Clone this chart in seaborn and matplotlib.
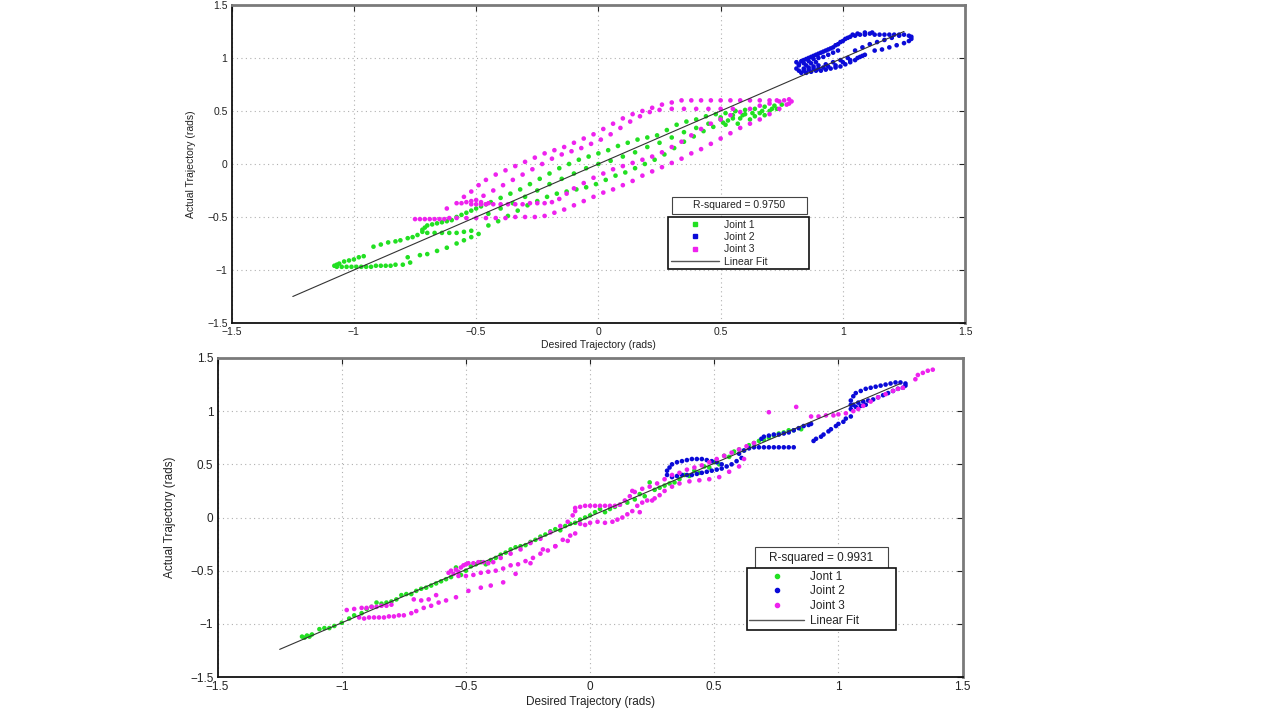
import numpy as np
import pandas as pd
import matplotlib
matplotlib.use("Agg")
import matplotlib.pyplot as plt
import seaborn as sns
from matplotlib.lines import Line2D
from matplotlib.patches import Rectangle

# ---------------- data ----------------
joint_names_top = ["Joint 1", "Joint 2", "Joint 3"]
joint_names_bottom = ["Jont 1", "Joint 2", "Joint 3"]
fit_label = "Linear Fit"
r2_top = "R-squared = 0.9750"
r2_bottom = "R-squared = 0.9931"

tick_values = [-1.5, -1, -0.5, 0, 0.5, 1, 1.5]
tick_labels = ["\u22121.5", "\u22121", "\u22120.5", "0", "0.5", "1", "1.5"]
x_label = "Desired Trajectory (rads)"
y_label = "Actual Trajectory (rads)"

fit_x = [-1.25, 1.25]
fit_y_top = [-1.25, 1.25]
fit_y_bottom = [-1.24, 1.26]

top_joint1 = [
    (-1.08, -0.96), (-1.07, -0.97), (-1.05, -0.97), (-1.03, -0.97), (-1.01, -0.97), (-0.99, -0.97),
    (-0.97, -0.97), (-0.95, -0.97), (-0.93, -0.97), (-0.91, -0.96), (-0.89, -0.96), (-0.87, -0.96),
    (-0.85, -0.96), (-0.83, -0.95), (-0.80, -0.95), (-0.77, -0.93),
    (-1.07, -0.95), (-1.06, -0.94), (-1.04, -0.92), (-1.02, -0.91), (-1.00, -0.90), (-0.98, -0.88),
    (-0.96, -0.87),
    (-0.92, -0.78), (-0.89, -0.76), (-0.86, -0.74), (-0.83, -0.73), (-0.81, -0.72), (-0.78, -0.70),
    (-0.76, -0.69), (-0.74, -0.67),
    (-0.72, -0.62), (-0.71, -0.60), (-0.70, -0.58), (-0.68, -0.57), (-0.66, -0.56), (-0.64, -0.55),
    (-0.62, -0.54), (-0.60, -0.53), (-0.72, -0.64), (-0.70, -0.65), (-0.67, -0.65), (-0.64, -0.65),
    (-0.61, -0.65), (-0.58, -0.65), (-0.55, -0.64), (-0.52, -0.63),
    (-0.58, -0.50), (-0.56, -0.48), (-0.54, -0.46), (-0.52, -0.44), (-0.50, -0.42), (-0.48, -0.40),
    (-0.46, -0.38), (-0.44, -0.36),
    (-0.40, -0.32), (-0.36, -0.28), (-0.32, -0.24), (-0.28, -0.19), (-0.24, -0.14), (-0.20, -0.09),
    (-0.16, -0.04), (-0.12, 0.00), (-0.08, 0.04), (-0.04, 0.07), (0.00, 0.10), (0.04, 0.13),
    (0.08, 0.17), (0.12, 0.20), (0.16, 0.23), (0.20, 0.25), (0.24, 0.27), (0.28, 0.32),
    (0.32, 0.37), (0.36, 0.40), (0.40, 0.42), (0.44, 0.45), (0.48, 0.47), (0.52, 0.48),
    (0.56, 0.50), (0.60, 0.51), (0.64, 0.52), (0.68, 0.54), (0.72, 0.55), (0.75, 0.56),
    (-0.78, -0.88), (-0.73, -0.86), (-0.70, -0.85), (-0.66, -0.82), (-0.62, -0.79), (-0.58, -0.75),
    (-0.55, -0.72), (-0.52, -0.69), (-0.49, -0.66),
    (-0.45, -0.58), (-0.41, -0.54), (-0.37, -0.49), (-0.33, -0.44), (-0.29, -0.39), (-0.25, -0.35),
    (-0.21, -0.31), (-0.17, -0.28), (-0.13, -0.26), (-0.09, -0.24), (-0.05, -0.22), (-0.01, -0.19),
    (0.03, -0.15), (0.07, -0.11), (0.11, -0.08), (0.15, -0.04), (0.19, 0.00), (0.23, 0.04),
    (0.27, 0.09), (0.31, 0.15), (0.35, 0.21), (0.39, 0.26), (0.43, 0.31), (0.47, 0.35),
    (0.51, 0.39), (0.55, 0.43), (0.59, 0.46), (0.63, 0.48), (0.67, 0.50), (0.71, 0.52),
    (-0.45, -0.47), (-0.40, -0.42), (-0.35, -0.37), (-0.30, -0.31), (-0.25, -0.25), (-0.20, -0.19),
    (-0.15, -0.14), (-0.10, -0.09), (-0.05, -0.04), (0.00, 0.00), (0.05, 0.03), (0.10, 0.07),
    (0.15, 0.11), (0.20, 0.16), (0.25, 0.20), (0.30, 0.25), (0.35, 0.30), (0.40, 0.34),
    (0.45, 0.38), (0.50, 0.42),
    (0.50, 0.44), (0.53, 0.41), (0.55, 0.46), (0.57, 0.38), (0.58, 0.43), (0.60, 0.47),
    (0.62, 0.42), (0.64, 0.45), (0.66, 0.48), (0.68, 0.46), (0.70, 0.50), (0.73, 0.52),
    (0.56, 0.50), (0.52, 0.37),
]

top_joint2 = [
    (0.82, 0.94), (0.83, 0.97), (0.85, 0.99), (0.87, 1.01), (0.89, 1.03), (0.91, 1.05), (0.93, 1.07),
    (0.95, 1.09), (0.97, 1.12), (0.99, 1.15), (1.01, 1.18), (1.03, 1.20), (1.05, 1.21), (1.07, 1.22),
    (1.09, 1.22), (1.11, 1.23), (1.13, 1.22), (1.15, 1.22), (1.17, 1.22), (1.19, 1.22), (1.21, 1.22),
    (1.23, 1.22), (1.25, 1.22), (1.27, 1.21), (1.28, 1.20), (1.28, 1.18),
    (1.27, 1.16), (1.25, 1.14), (1.22, 1.12), (1.19, 1.10), (1.16, 1.08), (1.13, 1.07),
    (1.09, 1.03), (1.07, 1.01), (1.05, 0.98), (1.03, 0.96), (1.01, 0.94), (0.99, 0.92), (0.97, 0.91),
    (0.95, 0.90), (0.93, 0.89), (0.91, 0.88), (0.89, 0.88), (0.87, 0.87), (0.85, 0.86), (0.83, 0.86),
    (0.82, 0.88), (0.84, 0.90), (0.86, 0.91), (0.88, 0.92), (0.90, 0.93), (0.93, 0.94), (0.96, 0.96),
    (0.99, 0.98), (1.02, 1.00),
    (0.84, 0.95), (0.86, 0.97), (0.88, 0.99), (0.90, 1.00), (0.92, 1.01), (0.94, 1.03), (0.96, 1.05),
    (0.98, 1.07), (0.82, 0.93), (0.85, 0.93), (0.87, 0.95), (0.89, 0.96),
    (1.05, 1.07), (1.08, 1.10), (1.11, 1.13), (1.14, 1.15), (1.17, 1.17), (1.20, 1.19), (1.23, 1.21),
    (0.84, 0.98), (0.86, 1.00), (0.88, 1.02), (0.90, 1.04), (0.92, 1.06), (0.94, 1.08), (0.96, 1.10),
    (0.98, 1.13), (1.00, 1.16), (1.02, 1.19), (1.04, 1.22), (1.06, 1.23), (1.09, 1.24), (1.12, 1.24),
    (0.84, 0.88), (0.86, 0.89), (0.88, 0.90), (0.90, 0.90), (0.92, 0.91), (0.94, 0.92), (0.97, 0.93),
    (1.00, 0.96), (1.03, 0.98), (1.06, 1.00), (1.08, 1.02), (0.81, 0.90), (0.81, 0.96),
]

top_joint3 = [
    (-0.75, -0.52), (-0.73, -0.52), (-0.71, -0.52), (-0.69, -0.52), (-0.67, -0.52), (-0.65, -0.52),
    (-0.63, -0.52), (-0.61, -0.51), (-0.58, -0.51), (-0.54, -0.51), (-0.50, -0.51), (-0.46, -0.51),
    (-0.42, -0.51), (-0.38, -0.51), (-0.34, -0.50), (-0.30, -0.50), (-0.26, -0.50), (-0.22, -0.49),
    (-0.18, -0.46), (-0.14, -0.43), (-0.10, -0.39), (-0.06, -0.35), (-0.02, -0.31), (0.02, -0.27),
    (0.06, -0.24), (0.10, -0.20), (0.14, -0.16), (0.18, -0.11), (0.22, -0.07), (0.26, -0.03),
    (0.30, 0.01), (0.34, 0.05), (0.38, 0.10), (0.42, 0.14), (0.46, 0.19), (0.50, 0.24),
    (0.54, 0.29), (0.58, 0.34), (0.62, 0.38), (0.66, 0.42), (0.70, 0.47), (0.74, 0.52), (0.77, 0.56),
    (-0.56, -0.37), (-0.54, -0.36), (-0.52, -0.35), (-0.50, -0.34), (-0.52, -0.38), (-0.50, -0.38),
    (-0.48, -0.38), (-0.46, -0.38), (-0.48, -0.36), (-0.45, -0.37), (-0.43, -0.38), (-0.40, -0.38),
    (-0.37, -0.38), (-0.34, -0.38), (-0.31, -0.38), (-0.28, -0.37), (-0.25, -0.37), (-0.22, -0.37),
    (-0.19, -0.36),
    (-0.62, -0.42), (-0.58, -0.37), (-0.55, -0.31), (-0.52, -0.26), (-0.49, -0.20), (-0.46, -0.15),
    (-0.42, -0.10), (-0.38, -0.06), (-0.34, -0.02), (-0.30, 0.02), (-0.26, 0.06), (-0.22, 0.10),
    (-0.18, 0.13), (-0.14, 0.16), (-0.10, 0.20), (-0.06, 0.24), (-0.02, 0.28), (0.02, 0.33),
    (0.06, 0.38), (0.10, 0.43), (0.14, 0.47), (0.18, 0.50), (0.22, 0.53), (0.26, 0.56),
    (0.30, 0.58), (0.34, 0.60), (0.38, 0.60), (0.42, 0.60), (0.46, 0.60), (0.50, 0.60),
    (0.54, 0.60), (0.58, 0.60), (0.62, 0.60), (0.66, 0.60), (0.70, 0.60), (0.73, 0.60),
    (0.76, 0.60), (0.78, 0.61), (0.79, 0.59), (0.78, 0.57),
    (-0.47, -0.30), (-0.43, -0.25), (-0.39, -0.20), (-0.35, -0.15), (-0.31, -0.10), (-0.27, -0.05),
    (-0.23, 0.00), (-0.19, 0.05), (-0.15, 0.09), (-0.11, 0.12), (-0.07, 0.15), (-0.03, 0.19),
    (0.01, 0.23), (0.05, 0.28), (0.09, 0.34), (0.13, 0.40), (0.17, 0.45), (0.21, 0.49),
    (0.25, 0.51), (0.30, 0.52), (0.35, 0.52), (0.40, 0.52), (0.45, 0.52), (0.50, 0.52), (0.55, 0.52),
    (-0.16, -0.33), (-0.13, -0.28), (-0.10, -0.23), (-0.06, -0.18), (-0.02, -0.13), (0.02, -0.09),
    (0.06, -0.05), (0.10, -0.02), (0.14, 0.01), (0.18, 0.04), (0.22, 0.07), (0.26, 0.11),
    (0.30, 0.16), (0.34, 0.21), (0.38, 0.27), (0.42, 0.33), (0.46, 0.38), (0.50, 0.42),
    (0.54, 0.46), (0.58, 0.49), (0.62, 0.52), (0.66, 0.55), (0.70, 0.57), (0.74, 0.59),
]

bottom_joint1 = [
    (-1.16, -1.12), (-1.15, -1.13), (-1.14, -1.11), (-1.13, -1.12), (-1.12, -1.10), (-1.09, -1.05),
    (-1.07, -1.04), (-1.05, -1.04), (-1.03, -1.02), (-1.00, -0.99), (-0.97, -0.95), (-0.95, -0.92),
    (-0.92, -0.90), (-0.90, -0.86), (-0.88, -0.84), (-0.86, -0.80), (-0.84, -0.81), (-0.82, -0.80),
    (-0.80, -0.79), (-0.78, -0.77), (-0.76, -0.73), (-0.74, -0.72), (-0.72, -0.72), (-0.70, -0.69),
    (-0.68, -0.67), (-0.66, -0.66), (-0.64, -0.64), (-0.62, -0.62), (-0.60, -0.60), (-0.58, -0.58),
    (-0.56, -0.56), (-0.54, -0.47), (-0.52, -0.54), (-0.50, -0.50), (-0.48, -0.46), (-0.46, -0.44),
    (-0.44, -0.42), (-0.42, -0.44), (-0.40, -0.40), (-0.38, -0.38), (-0.36, -0.35), (-0.34, -0.33),
    (-0.32, -0.30), (-0.30, -0.28), (-0.28, -0.27), (-0.26, -0.26), (-0.24, -0.23), (-0.22, -0.21),
    (-0.20, -0.18), (-0.18, -0.16), (-0.16, -0.13), (-0.14, -0.11), (-0.12, -0.12), (-0.10, -0.08),
    (-0.08, -0.06), (-0.06, -0.05), (-0.04, -0.02), (-0.02, 0.00), (0.00, 0.02), (0.02, 0.05),
    (0.04, 0.08), (0.06, 0.05), (0.08, 0.08), (0.10, 0.10), (0.12, 0.12), (0.15, 0.14),
    (0.18, 0.17), (0.20, 0.22), (0.22, 0.20), (0.24, 0.33), (0.26, 0.26), (0.28, 0.28),
    (0.30, 0.30), (0.32, 0.32), (0.34, 0.33), (0.36, 0.36), (0.38, 0.40), (0.40, 0.39),
    (0.42, 0.44), (0.44, 0.42), (0.46, 0.48), (0.48, 0.47), (0.50, 0.52), (0.52, 0.50),
    (0.54, 0.58), (0.56, 0.57), (0.58, 0.62), (0.60, 0.64), (0.62, 0.63), (0.64, 0.68),
    (0.66, 0.70), (0.68, 0.72), (0.70, 0.73), (0.72, 0.75), (0.74, 0.77), (0.76, 0.79),
    (0.78, 0.80), (0.80, 0.82), (0.82, 0.82), (0.85, 0.83),
]

bottom_joint2 = [
    (0.31, 0.40), (0.31, 0.44), (0.32, 0.47), (0.33, 0.50), (0.35, 0.52), (0.37, 0.53), (0.39, 0.54),
    (0.41, 0.55), (0.43, 0.55), (0.45, 0.55), (0.47, 0.54), (0.49, 0.53), (0.51, 0.52), (0.53, 0.50),
    (0.33, 0.38), (0.35, 0.39), (0.37, 0.40), (0.39, 0.40), (0.41, 0.40), (0.43, 0.41), (0.45, 0.42),
    (0.47, 0.43), (0.49, 0.44), (0.51, 0.45), (0.53, 0.46), (0.55, 0.48), (0.57, 0.50), (0.59, 0.53),
    (0.61, 0.56), (0.60, 0.60), (0.62, 0.63), (0.64, 0.65),
    (0.66, 0.66), (0.68, 0.66), (0.70, 0.66), (0.72, 0.66), (0.74, 0.66), (0.76, 0.66), (0.78, 0.66),
    (0.80, 0.66), (0.82, 0.66),
    (0.69, 0.74), (0.70, 0.76), (0.72, 0.77), (0.74, 0.78), (0.76, 0.78), (0.78, 0.79), (0.80, 0.80),
    (0.82, 0.82), (0.84, 0.84), (0.86, 0.86), (0.88, 0.87), (0.89, 0.88),
    (0.90, 0.72), (0.91, 0.74), (0.93, 0.76), (0.94, 0.78), (0.96, 0.81), (0.97, 0.83), (0.99, 0.86),
    (1.00, 0.88), (1.02, 0.90), (1.03, 0.93), (1.05, 0.95),
    (1.05, 1.02), (1.05, 1.06), (1.05, 1.10), (1.06, 1.14), (1.07, 1.17), (1.09, 1.19), (1.11, 1.21),
    (1.13, 1.22), (1.15, 1.23), (1.17, 1.24), (1.19, 1.25), (1.21, 1.26), (1.23, 1.27), (1.25, 1.27),
    (1.27, 1.26), (1.27, 1.24), (1.26, 1.22), (1.24, 1.21), (1.22, 1.19), (1.20, 1.17), (1.18, 1.15),
    (1.16, 1.13), (1.14, 1.11), (1.12, 1.10), (1.10, 1.09), (1.08, 1.08), (1.06, 1.06), (1.07, 1.04),
    (1.09, 1.05), (1.11, 1.06),
]

bottom_joint3 = [
    (-0.98, -0.87), (-0.95, -0.86), (-0.92, -0.85), (-0.90, -0.85), (-0.88, -0.84), (-0.86, -0.84),
    (-0.84, -0.83), (-0.82, -0.83), (-0.80, -0.82),
    (-0.93, -0.94), (-0.91, -0.95), (-0.89, -0.94), (-0.87, -0.94), (-0.85, -0.94), (-0.83, -0.94),
    (-0.81, -0.93), (-0.79, -0.93), (-0.77, -0.92), (-0.75, -0.92), (-0.72, -0.90),
    (-0.70, -0.88), (-0.67, -0.85), (-0.64, -0.83), (-0.61, -0.80), (-0.58, -0.78), (-0.54, -0.75),
    (-0.49, -0.69), (-0.44, -0.66), (-0.40, -0.64), (-0.35, -0.61), (-0.30, -0.53), (-0.24, -0.43),
    (-0.19, -0.30), (-0.14, -0.27), (-0.09, -0.22), (-0.06, -0.15),
    (-0.71, -0.77), (-0.68, -0.78), (-0.65, -0.77), (-0.62, -0.73),
    (-0.57, -0.52), (-0.56, -0.50), (-0.55, -0.53), (-0.54, -0.49), (-0.53, -0.51), (-0.52, -0.47),
    (-0.51, -0.45), (-0.50, -0.44), (-0.49, -0.43), (-0.47, -0.43), (-0.45, -0.42), (-0.43, -0.42),
    (-0.41, -0.43), (-0.39, -0.42),
    (-0.53, -0.55), (-0.50, -0.55), (-0.47, -0.54), (-0.44, -0.52), (-0.41, -0.51), (-0.38, -0.50),
    (-0.35, -0.48), (-0.32, -0.45), (-0.29, -0.44), (-0.26, -0.41), (-0.23, -0.38), (-0.20, -0.34),
    (-0.17, -0.31), (-0.14, -0.27), (-0.11, -0.21), (-0.08, -0.17),
    (-0.36, -0.38), (-0.32, -0.34), (-0.28, -0.30), (-0.24, -0.24), (-0.20, -0.20), (-0.16, -0.14),
    (-0.12, -0.08), (-0.09, -0.04), (-0.07, 0.02), (-0.06, 0.06),
    (-0.06, 0.09), (-0.04, 0.10), (-0.02, 0.11), (0.00, 0.11), (0.02, 0.11), (0.04, 0.11),
    (0.06, 0.11), (0.08, 0.11), (0.10, 0.11), (0.12, 0.12),
    (-0.04, -0.06), (-0.02, -0.07), (0.00, -0.05), (0.03, -0.04), (0.06, -0.05), (0.09, -0.04),
    (0.11, -0.02), (0.13, 0.00), (0.15, 0.03), (0.17, 0.06), (0.19, 0.11), (0.21, 0.14),
    (0.23, 0.16), (0.26, 0.18), (0.28, 0.21), (0.30, 0.25), (0.33, 0.29), (0.36, 0.32),
    (0.40, 0.34), (0.44, 0.35), (0.48, 0.36), (0.52, 0.38), (0.56, 0.43), (0.60, 0.48), (0.62, 0.55),
    (0.14, 0.16), (0.16, 0.20), (0.18, 0.24), (0.21, 0.27), (0.24, 0.29), (0.27, 0.32),
    (0.30, 0.36), (0.33, 0.40), (0.36, 0.42), (0.39, 0.45), (0.42, 0.47), (0.45, 0.49),
    (0.48, 0.52), (0.51, 0.55), (0.54, 0.58), (0.57, 0.61), (0.60, 0.64), (0.63, 0.67), (0.66, 0.70),
    (0.25, 0.16), (0.20, 0.05), (0.17, 0.25),
    (0.72, 0.99), (0.83, 1.04), (0.89, 0.95), (0.92, 0.95), (0.95, 0.96), (0.98, 0.96),
    (1.00, 0.97), (1.03, 0.98), (1.06, 1.00), (1.08, 1.02), (1.10, 1.05), (1.13, 1.09),
    (1.16, 1.13), (1.19, 1.16), (1.22, 1.19), (1.24, 1.21), (1.26, 1.22),
    (1.31, 1.30), (1.32, 1.34), (1.34, 1.36), (1.36, 1.38), (1.38, 1.39),
]

colors = ["#22e022", "#0a0ad8", "#ee22ee"]

# ---------------- style ----------------
sns.set_theme(style="white")
plt.rcParams['font.family'] = ['Liberation Sans', 'DejaVu Sans']
plt.rcParams['axes.unicode_minus'] = True


def make_df(series, names):
    frames = []
    for pts, name in zip(series, names):
        arr = np.array(pts)
        frames.append(pd.DataFrame({"x": arr[:, 0], "y": arr[:, 1], "joint": name}))
    return pd.concat(frames, ignore_index=True)


def style_axes(ax, fs_tick, fs_label, ylabelpad):
    ax.set_xlim(-1.5, 1.5)
    ax.set_ylim(-1.5, 1.5)
    ax.set_xticks(tick_values)
    ax.set_yticks(tick_values)
    ax.set_xticklabels(tick_labels)
    ax.set_yticklabels(tick_labels)
    ax.grid(True, linestyle=(0, (1, 3)), color="#b0b0b0", linewidth=0.8)
    ax.set_axisbelow(True)
    ax.tick_params(direction="in", length=4, width=0.8, top=True, right=True,
                   labelsize=fs_tick, colors="#222222", pad=3)
    for side in ["left", "bottom"]:
        ax.spines[side].set_color("#111111")
        ax.spines[side].set_linewidth(1.3)
    for side in ["top", "right"]:
        ax.spines[side].set_color("#7a7a7a")
        ax.spines[side].set_linewidth(2.0)
    ax.set_xlabel(x_label, fontsize=fs_label, color="#222222", labelpad=2)
    ax.set_ylabel(y_label, fontsize=fs_label, color="#222222", labelpad=ylabelpad)


fig = plt.figure(figsize=(12.8, 7.2), dpi=100)
fig.patch.set_facecolor("white")

panels = [
    dict(rect=[0.181, 0.5514, 0.573, 0.4417], series=[top_joint1, top_joint2, top_joint3],
         names=joint_names_top, fit_y=fit_y_top, r2=r2_top,
         rbox=(0.600, 0.343, 0.184, 0.0535), leg=(0.595, 0.333, 0.192),
         fs_tick=7.5, fs_label=7.5, marker="s", ms=2.8, ylabelpad=8),
    dict(rect=[0.170, 0.0597, 0.582, 0.4431], series=[bottom_joint1, bottom_joint2, bottom_joint3],
         names=joint_names_bottom, fit_y=fit_y_bottom, r2=r2_bottom,
         rbox=(0.721, 0.3386, 0.1785, 0.069), leg=(0.710, 0.342, 0.201),
         fs_tick=8.5, fs_label=8.5, marker="o", ms=3.0, ylabelpad=10),
]

for p in panels:
    ax = fig.add_axes(p["rect"])
    df = make_df(p["series"], p["names"])
    sns.scatterplot(data=df, x="x", y="y", hue="joint", palette=dict(zip(p["names"], colors)),
                    s=11, linewidth=0, legend=False, ax=ax, zorder=3)
    sns.lineplot(x=fit_x, y=p["fit_y"], color="#333333", linewidth=0.8, ax=ax, zorder=4)
    style_axes(ax, p["fs_tick"], p["fs_label"], p["ylabelpad"])

    x0, y0, w, h = p["rbox"]
    ax.add_patch(Rectangle((x0, y0), w, h, transform=ax.transAxes, facecolor="white",
                           edgecolor="#444444", linewidth=0.8, zorder=6))
    ax.text(x0 + w / 2, y0 + h / 2, p["r2"], transform=ax.transAxes, ha="center", va="center",
            fontsize=p["fs_label"], color="#222222", zorder=7)

    handles = [Line2D([], [], linestyle="none", marker=p["marker"], markersize=p["ms"],
                      markerfacecolor=c, markeredgecolor=c) for c in colors]
    handles.append(Line2D([], [], color="#555555", linewidth=1.0))
    labels = list(p["names"]) + [fit_label]
    lx, ly, lw_ = p["leg"]
    leg = ax.legend(handles, labels, loc="upper left", bbox_to_anchor=(lx, ly, lw_, 0),
                    mode="expand", borderaxespad=0, fontsize=p["fs_label"], frameon=True,
                    fancybox=False, framealpha=1, edgecolor="#111111", handlelength=4.6,
                    handletextpad=0.5, labelspacing=0.22, borderpad=0.25, numpoints=1)
    leg.get_frame().set_linewidth(1.2)
    leg.set_zorder(8)

fig.savefig("out.png", dpi=100, facecolor="white")
